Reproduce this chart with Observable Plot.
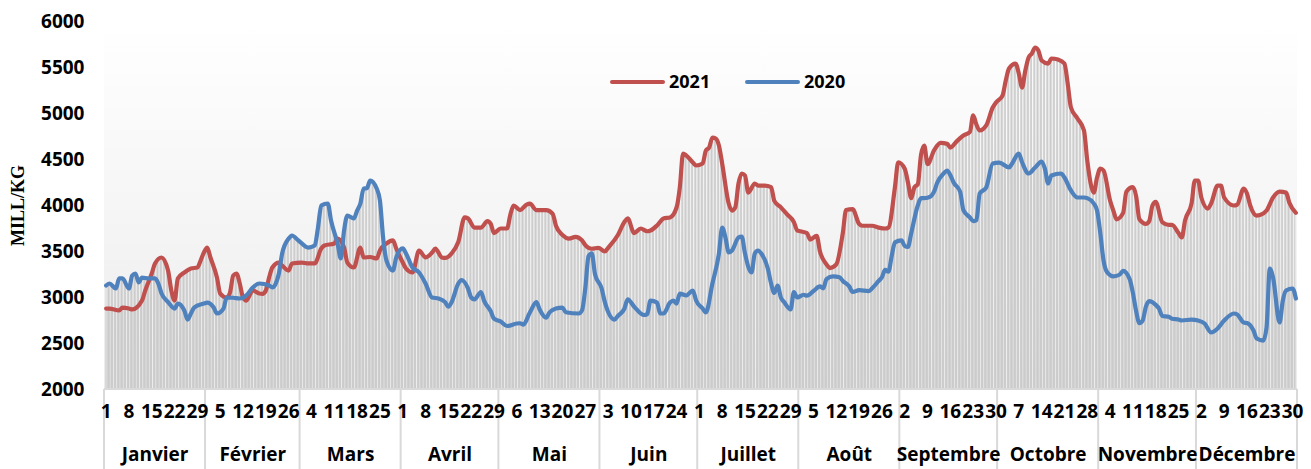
<!DOCTYPE html>
<html><head><meta charset="utf-8">
<script src="https://cdn.jsdelivr.net/npm/d3@7"></script>
<script src="https://cdn.jsdelivr.net/npm/@observablehq/plot@0.6"></script>
<style>body{margin:0;background:#fff;}#chart svg{display:block;}</style>
</head><body><div id="chart"></div>
<script>
// ---- data ----
const months = ["Janvier","Février","Mars","Avril","Mai","Juin","Juillet","Août","Septembre","Octobre","Novembre","Décembre"];
const monthDays = [31,29,31,30,31,30,31,31,30,31,30,31];
const tickDaysByMonth = [[1,8,15,22,29],[5,12,19,26],[4,11,18,25],[1,8,15,22,29],[6,13,20,27],[3,10,17,24],[1,8,15,22,29],[5,12,19,26],[2,9,16,23,30],[7,14,21,28],[4,11,18,25],[2,9,16,23,30]];
const yTicks = [2000,2500,3000,3500,4000,4500,5000,5500,6000];
const seriesNames = ["2021","2020"];
const seriesColors = ["#c0504d","#4f81bd"];
const yLabel = "MILL/KG";
// [day index in the year, value]
const s2021 = [[1,2880],[2,2880],[5,2860],[6,2890],[8,2880],[9,2870],[12,2967],[13,3076],[15,3261],[16,3370],[18,3435],[20,3293],[21,3076],[22,2967],[23,3207],[25,3272],[27,3315],[29,3326],[30,3402],[31,3489],[32,3543],[33,3435],[35,3217],[36,3043],[38,3000],[39,3054],[40,3239],[41,3261],[42,3152],[43,3000],[44,2967],[46,3076],[48,3043],[49,3040],[50,3076],[51,3217],[52,3326],[54,3380],[55,3348],[57,3293],[58,3370],[61,3380],[63,3370],[65,3370],[67,3532],[68,3565],[71,3587],[72,3640],[74,3543],[75,3380],[77,3326],[79,3543],[80,3435],[82,3440],[84,3424],[85,3511],[87,3587],[89,3620],[90,3533],[92,3380],[93,3315],[95,3272],[97,3511],[99,3435],[101,3489],[102,3532],[104,3435],[105,3430],[107,3480],[109,3600],[111,3870],[112,3860],[114,3760],[116,3760],[118,3830],[119,3800],[120,3700],[122,3750],[124,3750],[125,3900],[126,4000],[128,3950],[130,4010],[131,4020],[133,3950],[136,3950],[138,3910],[139,3780],[141,3680],[143,3640],[145,3660],[147,3620],[148,3570],[150,3530],[152,3540],[154,3500],[155,3540],[158,3680],[160,3820],[161,3860],[163,3700],[165,3750],[167,3720],[168,3728],[170,3783],[172,3859],[174,3870],[176,3978],[177,4196],[178,4565],[179,4543],[181,4467],[182,4435],[184,4456],[185,4598],[186,4630],[187,4739],[188,4728],[189,4652],[190,4456],[192,4022],[193,3945],[194,3978],[195,4239],[196,4348],[197,4326],[198,4141],[200,4239],[201,4217],[203,4217],[205,4200],[206,4050],[208,3980],[210,3900],[212,3820],[213,3730],[214,3720],[216,3700],[217,3630],[219,3670],[220,3500],[222,3360],[223,3320],[225,3360],[227,3700],[228,3950],[230,3960],[232,3800],[233,3780],[236,3780],[238,3760],[240,3750],[241,3760],[243,4200],[244,4470],[246,4400],[247,4250],[248,4080],[249,4200],[250,4230],[251,4550],[252,4650],[253,4450],[255,4600],[257,4680],[259,4670],[260,4630],[262,4700],[264,4760],[266,4800],[267,4980],[268,4880],[269,4815],[271,4870],[273,5065],[274,5120],[276,5195],[277,5359],[278,5489],[280,5543],[281,5435],[282,5282],[283,5467],[284,5609],[285,5652],[286,5717],[287,5685],[288,5576],[290,5543],[291,5598],[293,5587],[295,5543],[296,5326],[297,5065],[299,4946],[301,4815],[302,4489],[304,4141],[305,4304],[306,4402],[307,4380],[309,4054],[310,3945],[311,3850],[313,3920],[314,4150],[316,4200],[317,4100],[318,3850],[320,3800],[321,3830],[322,4000],[323,4040],[325,3820],[327,3790],[328,3790],[330,3700],[331,3652],[332,3837],[334,4022],[335,4272],[336,4272],[337,4087],[339,3967],[340,4022],[342,4217],[343,4217],[344,4087],[347,4000],[348,4010],[350,4185],[351,4130],[352,4000],[354,3890],[356,3913],[357,3945],[359,4087],[361,4150],[363,4140],[364,4030],[366,3920]];
const s2020 = [[1,3130],[2,3152],[4,3098],[5,3207],[6,3207],[8,3098],[9,3239],[10,3261],[11,3163],[12,3217],[14,3207],[16,3207],[17,3152],[18,3043],[20,2950],[22,2880],[23,2934],[25,2858],[26,2760],[27,2826],[28,2891],[31,2934],[32,2945],[34,2891],[35,2826],[37,2880],[38,3000],[40,2997],[42,2989],[44,3022],[46,3109],[48,3152],[51,3130],[52,3109],[54,3261],[55,3478],[57,3641],[58,3674],[60,3620],[63,3543],[65,3565],[66,3761],[67,4000],[69,4022],[70,3837],[72,3587],[73,3424],[74,3728],[75,3891],[77,3859],[78,3945],[79,4022],[80,4185],[81,4188],[82,4272],[84,4185],[85,4054],[86,3641],[87,3402],[89,3293],[90,3435],[92,3533],[93,3478],[95,3326],[97,3272],[99,3152],[101,3000],[103,2989],[105,2950],[106,2900],[107,2950],[109,3150],[110,3190],[112,3100],[113,3000],[114,2980],[116,3060],[117,2960],[119,2850],[120,2770],[122,2740],[124,2690],[127,2717],[128,2720],[129,2706],[131,2837],[133,2950],[134,2870],[136,2780],[137,2837],[139,2880],[141,2891],[142,2840],[146,2826],[147,2860],[148,3100],[149,3450],[150,3480],[151,3250],[153,3100],[154,2950],[157,2760],[158,2800],[160,2880],[161,2980],[163,2900],[166,2810],[167,2820],[168,2967],[170,2945],[171,2826],[172,2826],[174,2945],[175,2967],[176,2934],[177,3043],[179,3022],[181,3076],[182,2967],[184,2880],[185,2837],[187,3152],[189,3478],[190,3761],[191,3652],[192,3489],[193,3511],[195,3652],[196,3663],[197,3478],[199,3272],[200,3478],[201,3511],[202,3478],[204,3315],[205,3152],[206,3050],[207,3130],[208,3000],[209,2950],[211,2870],[212,3060],[213,3000],[215,3030],[216,3020],[218,3070],[220,3120],[221,3100],[222,3200],[224,3230],[226,3220],[227,3180],[229,3120],[230,3060],[232,3080],[235,3070],[236,3100],[238,3180],[239,3220],[240,3300],[241,3280],[242,3450],[243,3600],[245,3620],[246,3560],[247,3550],[248,3700],[250,4000],[251,4080],[252,4080],[254,4100],[255,4150],[256,4250],[258,4350],[259,4380],[260,4330],[261,4250],[263,4150],[264,3950],[266,3870],[267,3830],[268,3840],[269,4130],[271,4196],[273,4456],[275,4467],[278,4413],[279,4460],[281,4565],[282,4470],[284,4348],[286,4413],[288,4478],[289,4400],[290,4239],[291,4326],[294,4348],[295,4304],[297,4163],[299,4087],[301,4087],[302,4080],[304,4022],[305,3945],[306,3700],[307,3400],[308,3280],[310,3230],[312,3250],[313,3290],[315,3200],[316,3050],[317,2850],[318,2720],[319,2750],[320,2900],[321,2960],[323,2920],[324,2880],[325,2800],[327,2790],[328,2770],[330,2760],[331,2750],[334,2760],[336,2750],[338,2717],[340,2620],[342,2663],[344,2750],[347,2826],[348,2815],[350,2728],[351,2722],[353,2641],[354,2554],[356,2532],[357,2674],[358,3315],[359,3217],[361,2728],[362,2967],[363,3076],[365,3098],[366,2989]];

// ---- derived tables ----
const d2021 = s2021.map(([day, value]) => ({day, value}));
const d2020 = s2020.map(([day, value]) => ({day, value}));
const monthStart = monthDays.map((_, i) => d3.sum(monthDays.slice(0, i)));
const totalDays = d3.sum(monthDays);
const ticks = tickDaysByMonth.flatMap((days, m) => days.map(d => ({pos: monthStart[m] + d, label: String(d)})));
const monthLabels = months.map((name, m) => ({pos: monthStart[m] + monthDays[m] / 2 + 0.5, name}));
const boundaries = [...monthStart.map(s => s + 0.5), totalDays + 0.5];
const yMin = yTicks[0], yMax = yTicks[yTicks.length - 1];

const FONT = "'Open Sans', 'DejaVu Sans', sans-serif";
const FS = 19;

function xScale(scales, dims) {
  return scales && scales.x ? scales.x : d3.scaleLinear([0.5, totalDays + 0.5], [dims.marginLeft, dims.width - dims.marginRight]);
}

function background(index, scales, values, dims) {
  const xs = xScale(scales, dims);
  const g = d3.create("svg:g");
  const defs = g.append("defs");
  const grad = defs.append("linearGradient").attr("id", "bgGrad").attr("x1", 0).attr("y1", 0).attr("x2", 0).attr("y2", 1);
  grad.append("stop").attr("offset", "0%").attr("stop-color", "#ffffff");
  grad.append("stop").attr("offset", "100%").attr("stop-color", "#ececec");
  const x0 = xs(0.5), x1 = xs(totalDays + 0.5), step = xs(1.5) - xs(0.5);
  const pat = defs.append("pattern").attr("id", "hatch").attr("patternUnits", "userSpaceOnUse")
    .attr("x", x0).attr("y", 0).attr("width", step).attr("height", 20);
  pat.append("rect").attr("x", 0.3).attr("y", 0).attr("width", step * 0.62).attr("height", 20).attr("fill", "#cbcbcb");
  g.append("rect").attr("x", x0).attr("y", dims.marginTop).attr("width", x1 - x0)
    .attr("height", dims.height - dims.marginTop - dims.marginBottom).attr("fill", "url(#bgGrad)");
  return g.node();
}

function separators(index, scales, values, dims) {
  const xs = xScale(scales, dims);
  const g = d3.create("svg:g").attr("stroke", "#d9d9d9").attr("stroke-width", 2);
  const yTop = dims.height - dims.marginBottom;
  g.append("line").attr("x1", xs(0.5)).attr("x2", xs(totalDays + 0.5)).attr("y1", yTop).attr("y2", yTop);
  for (const b of boundaries) {
    g.append("line").attr("x1", xs(b)).attr("x2", xs(b)).attr("y1", yTop).attr("y2", dims.height);
  }
  return g.node();
}

function legend(index, scales, values, dims) {
  const g = d3.create("svg:g");
  const starts = [610, 745];
  seriesNames.forEach((name, i) => {
    const x = starts[i], y = 82;
    g.append("line").attr("x1", x + 2).attr("x2", x + 53).attr("y1", y).attr("y2", y)
      .attr("stroke", seriesColors[i]).attr("stroke-width", 4).attr("stroke-linecap", "round");
    g.append("text").attr("x", x + 59).attr("y", y).attr("dy", "0.36em").attr("text-anchor", "start")
      .attr("font-family", FONT).attr("font-weight", "bold").attr("font-size", 18).attr("fill", "#000").text(name);
  });
  return g.node();
}

const chart = Plot.plot({
  width: 1311,
  height: 469,
  marginLeft: 104,
  marginRight: 14,
  marginTop: 21,
  marginBottom: 80,
  x: {domain: [0.5, totalDays + 0.5], axis: null},
  y: {domain: [yMin, yMax], axis: null},
  style: {fontFamily: FONT, background: "#fff", overflow: "visible"},
  marks: [
    background,
    Plot.areaY(d2021, {x: "day", y1: yMin, y2: "value", curve: "monotone-x", fill: "url(#hatch)"}),
    Plot.areaY(d2020, {x: "day", y1: yMin, y2: "value", curve: "monotone-x", fill: "url(#hatch)"}),
    separators,
    Plot.line(d2021, {x: "day", y: "value", curve: "monotone-x", stroke: seriesColors[0], strokeWidth: 4.2, strokeLinejoin: "round", strokeLinecap: "round"}),
    Plot.line(d2020, {x: "day", y: "value", curve: "monotone-x", stroke: seriesColors[1], strokeWidth: 4.2, strokeLinejoin: "round", strokeLinecap: "round"}),
    Plot.text(yTicks, {y: d => d, text: d => String(d), frameAnchor: "left", dx: -20, textAnchor: "end", fontSize: FS, fontWeight: "bold", fill: "#000"}),
    Plot.text(ticks, {x: "pos", text: "label", frameAnchor: "bottom", dy: 28, fontSize: FS, fontWeight: "bold", fill: "#000"}),
    Plot.text(monthLabels, {x: "pos", text: "name", frameAnchor: "bottom", dy: 71, fontSize: FS, fontWeight: "bold", fill: "#000"}),
    Plot.text([yLabel], {text: d => d, frameAnchor: "left", textAnchor: "middle", rotate: -90, dx: -86, dy: 0, fontFamily: "'Liberation Serif', serif", fontWeight: "bold", fontSize: 18, fill: "#000"}),
    legend
  ]
});
document.getElementById("chart").appendChild(chart);
</script>
</body></html>
